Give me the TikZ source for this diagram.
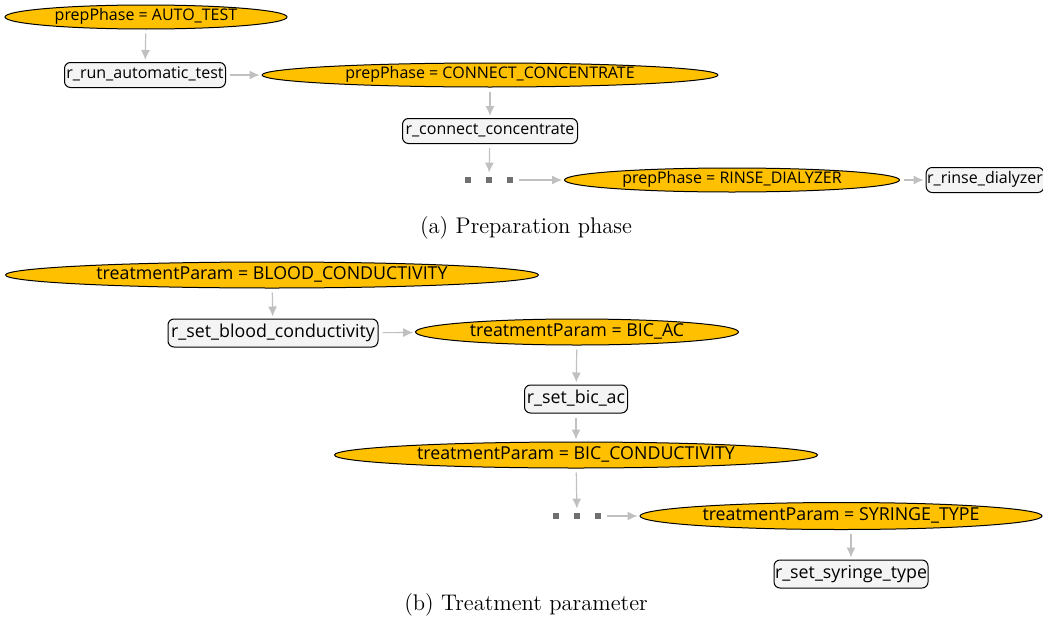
\documentclass[tikz,border=0pt]{standalone}
\usepackage{fontspec}
\newfontfamily\graphfont{Open Sans}
\usepackage{tikz}
\usetikzlibrary{shapes,arrows.meta,positioning}

\definecolor{condfill}{HTML}{FFC000}
\definecolor{actfill}{HTML}{F4F4F4}
\definecolor{flowgray}{HTML}{C0C0C0}
\definecolor{dotgray}{HTML}{707070}

\newcommand{\skipdots}{\textcolor{dotgray}{\rule{3pt}{3pt}\hspace{7.5pt}\rule{3pt}{3pt}\hspace{7.5pt}\rule{3pt}{3pt}}}

\tikzset{
  cond/.style={ellipse, draw=black, line width=0.5pt, fill=condfill, inner sep=0pt,
    text height=5.4pt, text depth=1.5pt, font=\graphfont\fontsize{8}{10}\selectfont},
  act/.style={rectangle, rounded corners=3pt, draw=black, line width=0.5pt, fill=actfill,
    inner sep=0.5pt, minimum height=12.5pt, text height=5.4pt, text depth=1.5pt,
    font=\graphfont\fontsize{8}{10}\selectfont},
  big/.style={font=\graphfont\fontsize{8.9}{11}\selectfont, text height=6pt, text depth=1.7pt},
  skip/.style={inner sep=1pt},
  flow/.style={draw=flowgray, line width=0.6pt, -{Latex[length=5pt,width=4.5pt]},
    shorten >=1pt, shorten <=2pt},
  caption/.style={font=\fontsize{11.3}{13}\selectfont}
}

\begin{document}
\begin{tikzpicture}[x=0.5pt, y=-0.5pt]
\useasboundingbox (0,0) rectangle (1043,621);

% (a) preparation phase
\node [cond, minimum width=141pt, minimum height=12pt] (autoTest) at (146,17) {prepPhase = AUTO\_TEST};
\node [act, minimum width=80.5pt] (runTest) at (145,75) {r\_run\_automatic\_test};
\node [cond, minimum width=228pt, minimum height=12pt] (connConc) at (490,75) {prepPhase = CONNECT\_CONCENTRATE};
\node [act, minimum width=87.5pt] (setConc) at (490,131) {r\_connect\_concentrate};
\node [skip] (dotsA) at (489,180) {\skipdots};
\node [cond, minimum width=167.5pt, minimum height=12pt] (rinseDial) at (732,180) {prepPhase = RINSE\_DIALYZER};
\node [act, minimum width=57.5pt] (runRinse) at (985,180) {r\_rinse\_dialyzer};
\node [caption] (capA) at (526,228) {(a) Preparation phase};

\draw [flow] (autoTest) -- (runTest);
\draw [flow] (runTest) -- (connConc);
\draw [flow] (connConc) -- (setConc);
\draw [flow] (setConc) -- (dotsA);
\draw [flow] (dotsA) -- (rinseDial);
\draw [flow] (rinseDial) -- (runRinse);

% (b) treatment parameter
\node [cond, big, minimum width=266.5pt, minimum height=13pt] (bloodCond) at (272,275) {treatmentParam = BLOOD\_CONDUCTIVITY};
\node [act, big, minimum width=105pt, minimum height=14pt] (setBlood) at (273,333) {r\_set\_blood\_conductivity};
\node [cond, big, minimum width=161.5pt, minimum height=13pt] (bicAc) at (577,332) {treatmentParam = BIC\_AC};
\node [act, big, minimum width=51.5pt, minimum height=14pt] (setBic) at (576,399) {r\_set\_bic\_ac};
\node [cond, big, minimum width=241.5pt, minimum height=13pt] (bicCond) at (576,455) {treatmentParam = BIC\_CONDUCTIVITY};
\node [skip] (dotsB) at (577,516) {\skipdots};
\node [cond, big, minimum width=201pt, minimum height=13.5pt] (syrType) at (841,516) {treatmentParam = SYRINGE\_TYPE};
\node [act, big, minimum width=76.5pt, minimum height=14pt] (setSyr) at (851,574) {r\_set\_syringe\_type};
\node [caption] (capB) at (526,605) {(b) Treatment parameter};

\draw [flow] (bloodCond) -- (setBlood);
\draw [flow] (setBlood) -- (bicAc);
\draw [flow] (bicAc) -- (setBic);
\draw [flow] (setBic) -- (bicCond);
\draw [flow] (bicCond) -- (dotsB);
\draw [flow] (dotsB) -- (syrType);
\draw [flow] (setSyr |- syrType.south) -- (setSyr);
\end{tikzpicture}
\end{document}
